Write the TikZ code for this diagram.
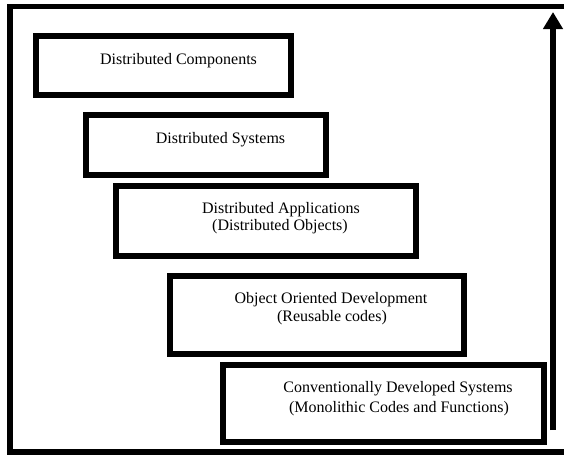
\documentclass[tikz,border=0pt]{standalone}
\usepackage{fontspec}
\setmainfont{Liberation Serif}
\usetikzlibrary{arrows.meta}

\begin{document}
\begin{tikzpicture}[x=1pt, y=-1pt,
  stagebox/.style={draw=black, line width=6pt, fill=none, inner sep=0pt, outer sep=0pt},
  label/.style={font=\fontsize{16}{18}\selectfont, inner sep=0pt, anchor=base},
  frameline/.style={line width=5.5pt},
  trend/.style={line width=6pt, -{Triangle[width=19pt, length=17pt]}}
]
\useasboundingbox (0,0) rectangle (564,455);
\fill[white] (0,0) rectangle (564,455);

% open frame around the stages
\begin{scope}
  \clip (0,0) rectangle (564,455);
  \draw[frameline] (570,6.5) -- (10,6.5) -- (10,452) -- (570,452);
\end{scope}

% stage boxes, oldest at the bottom right
\node[stagebox, minimum width=255pt,   minimum height=59pt]   (b1) at (163.5,65.5)   {};
\node[stagebox, minimum width=240pt,   minimum height=59.5pt] (b2) at (205.5,144.75) {};
\node[stagebox, minimum width=299.5pt, minimum height=69.5pt] (b3) at (265.75,220.75) {};
\node[stagebox, minimum width=293.5pt, minimum height=78.5pt] (b4) at (316.75,314.75) {};
\node[stagebox, minimum width=321pt,   minimum height=77.5pt] (b5) at (383.5,403.25) {};

% stage labels
\node[label] (t1)  at (178.5,64)  {Distributed Components};
\node[label] (t2)  at (220.5,143) {Distributed Systems};
\node[label] (t3a) at (281,213)   {Distributed Applications};
\node[label] (t3b) at (280,230)   {(Distributed Objects)};
\node[label] (t4a) at (331,303)   {Object Oriented Development};
\node[label] (t4b) at (332,321)   {(Reusable codes)};
\node[label] (t5a) at (398,392)   {Conventionally Developed Systems};
\node[label] (t5b) at (399,412)   {(Monolithic Codes and Functions)};

% upward arrow
\coordinate (arrowfoot) at (553,430);
\coordinate (arrowtip)  at (553,12);
\draw[trend] (arrowfoot) -- (arrowtip);
\end{tikzpicture}
\end{document}
